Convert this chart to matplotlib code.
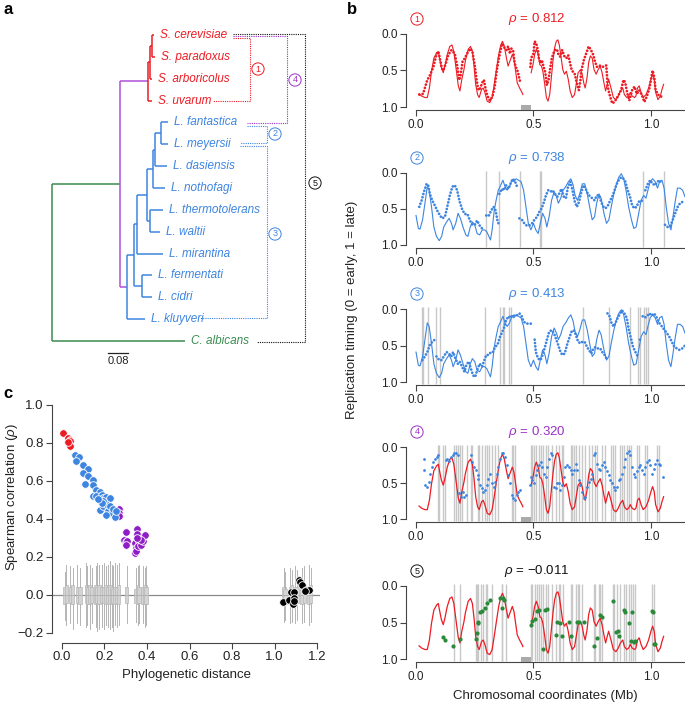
import numpy as np
import matplotlib
matplotlib.use('Agg')
import matplotlib.pyplot as plt
from matplotlib.patches import Rectangle

plt.rcParams['font.family'] = ['Liberation Sans', 'DejaVu Sans', 'Noto Sans CJK SC']
plt.rcParams['mathtext.fontset'] = 'custom'
plt.rcParams['mathtext.rm'] = 'Liberation Sans'
plt.rcParams['mathtext.it'] = 'Liberation Sans:italic'

nan = np.nan
RED, BLUE, PURPLE, GREEN, BLACK = '#ec1c24', '#3d85e0', '#9b30c9', '#3a8c50', '#111111'
TREE_PURPLE = '#b050d8'
AXC = '#444444'

# ---------------- panel a : tree ----------------
leaf_names = ['S. cerevisiae', 'S. paradoxus', 'S. arboricolus', 'S. uvarum',
              'L. fantastica', 'L. meyersii', 'L. dasiensis', 'L. nothofagi',
              'L. thermotolerans', 'L. waltii', 'L. mirantina', 'L. fermentati',
              'L. cidri', 'L. kluyveri', 'C. albicans']
tree_edges = [
    ('root', 'C. albicans', 0.532), ('root', 'yeast', 0.272),
    ('yeast', 'sac', 0.112), ('yeast', 'lach', 0.028),
    ('sac', 'S. uvarum', 0.016), ('sac', 'sacB', 0.008),
    ('sacB', 'S. arboricolus', 0.008), ('sacB', 'sacA', 0.008),
    ('sacA', 'S. cerevisiae', 0.008), ('sacA', 'S. paradoxus', 0.012),
    ('lach', 'L. kluyveri', 0.072), ('lach', 'n1', 0.028),
    ('n1', 'fc', 0.032), ('fc', 'L. fermentati', 0.04), ('fc', 'L. cidri', 0.04),
    ('n1', 'n2', 0.012), ('n2', 'L. mirantina', 0.104), ('n2', 'n3', 0.04),
    ('n3', 'tw', 0.012), ('tw', 'L. thermotolerans', 0.052), ('tw', 'L. waltii', 0.04),
    ('n3', 'n4', 0.024), ('n4', 'L. nothofagi', 0.048), ('n4', 'n5', 0.008),
    ('n5', 'L. dasiensis', 0.048), ('n5', 'fm', 0.024),
    ('fm', 'L. fantastica', 0.028), ('fm', 'L. meyersii', 0.028)]
scale_bar = 0.08

# ---------------- panel b : replication profiles ----------------
cer_lx = [0.013,0.024,0.038,0.048,0.057,0.066,0.076,0.088,0.095,0.10,0.108,0.116,0.123,0.133,0.144,
          0.153,0.161,0.17,0.18,0.187,0.195,0.204,0.21,0.222,0.232,0.24,0.247,0.254,0.262,0.269,
          0.279,0.286,0.293,0.303,0.314,0.324,0.332,0.342,0.352,0.361,0.368,0.376,0.385,0.392,0.402,
          0.41,0.417,0.424,0.431,0.441,0.451,0.455]
cer_ly = [0.82,0.85,0.87,0.87,0.74,0.51,0.33,0.26,0.24,0.33,0.46,0.53,0.44,0.28,0.17,
          0.15,0.24,0.46,0.71,0.78,0.62,0.49,0.37,0.21,0.17,0.24,0.44,0.69,0.83,0.87,
          0.76,0.74,0.80,0.92,0.94,0.87,0.71,0.49,0.28,0.15,0.10,0.17,0.33,0.44,0.35,
          0.28,0.35,0.51,0.67,0.74,0.80,0.83]
cer_rx = [0.49,0.498,0.505,0.512,0.52,0.527,0.534,0.54,0.548,0.555,0.562,0.569,0.576,0.583,0.59,
          0.597,0.604,0.61,0.618,0.625,0.632,0.64,0.648,0.656,0.665,0.675,0.682,0.69,0.70,0.707,
          0.714,0.72,0.728,0.735,0.742,0.75,0.758,0.767,0.775,0.784,0.792,0.80,0.807,0.814,0.82,
          0.83,0.84,0.851,0.861,0.87,0.88,0.887,0.897,0.905,0.912,0.92,0.93,0.936,0.943,0.95,
          0.958,0.967,0.979,0.99,1.0,1.007,1.014,1.02,1.03,1.04,1.047,1.054]
cer_ry = [0.53,0.42,0.28,0.21,0.28,0.42,0.44,0.51,0.69,0.87,0.92,0.83,0.60,0.37,0.19,
          0.10,0.08,0.15,0.33,0.49,0.55,0.51,0.62,0.78,0.87,0.83,0.69,0.53,0.49,0.55,
          0.67,0.74,0.60,0.39,0.30,0.33,0.49,0.55,0.49,0.44,0.53,0.67,0.78,0.69,0.62,
          0.74,0.87,0.90,0.85,0.78,0.74,0.83,0.87,0.85,0.80,0.85,0.87,0.85,0.74,0.71,
          0.80,0.87,0.83,0.74,0.62,0.55,0.62,0.80,0.90,0.85,0.76,0.69]

sac_lx = [0.014,0.03,0.048,0.06,0.074,0.088,0.095,0.10,0.11,0.116,0.127,0.137,0.151,0.165,0.175,
          0.184,0.19,0.198,0.208,0.222,0.232,0.24,0.25,0.257,0.264,0.27,0.283,0.289,0.296,0.303,
          0.314,0.325,0.335,0.342,0.35,0.36,0.368,0.378,0.385,0.392,0.40,0.406,0.413,0.42,0.427,
          0.434,0.441,0.445]
sac_ly = [0.83,0.82,0.63,0.56,0.45,0.27,0.24,0.31,0.47,0.50,0.40,0.29,0.22,0.27,0.43,
          0.63,0.56,0.38,0.33,0.24,0.20,0.24,0.43,0.61,0.75,0.77,0.66,0.63,0.75,0.84,
          0.91,0.86,0.72,0.54,0.38,0.22,0.13,0.20,0.22,0.17,0.27,0.20,0.22,0.40,0.47,
          0.52,0.63,0.66]
sac_rx = [0.487,0.49,0.50,0.505,0.512,0.52,0.523,0.53,0.536,0.543,0.55,0.557,0.564,0.57,0.578,
          0.59,0.60,0.607,0.614,0.622,0.632,0.64,0.648,0.653,0.663,0.675,0.685,0.693,0.70,0.704,
          0.714,0.724,0.735,0.745,0.755,0.762,0.77,0.78,0.795,0.81,0.816,0.823,0.835,0.845,0.858,
          0.873,0.883,0.89,0.90,0.908,0.92,0.93,0.94,0.95,0.962,0.972,0.982,0.993,1.0,1.007,
          1.014,1.02,1.033,1.042,1.05]
sac_ry = [0.45,0.33,0.27,0.10,0.13,0.24,0.33,0.40,0.36,0.45,0.52,0.70,0.63,0.50,0.33,
          0.22,0.21,0.29,0.31,0.22,0.31,0.33,0.29,0.36,0.50,0.54,0.68,0.77,0.63,0.50,
          0.36,0.27,0.17,0.22,0.29,0.38,0.45,0.43,0.45,0.43,0.72,0.82,0.95,0.93,0.86,
          0.77,0.63,0.66,0.82,0.91,0.77,0.72,0.82,0.77,0.84,0.93,0.86,0.75,0.63,0.50,
          0.59,0.77,0.84,0.86,0.84]

mey_x = [0.0,0.01,0.017,0.028,0.038,0.048,0.056,0.066,0.076,0.087,0.099,0.109,0.118,0.13,0.141,
         0.151,0.158,0.169,0.179,0.189,0.20,0.212,0.221,0.231,0.24,0.25,0.26,0.271,0.282,0.292,
         0.302,0.31,0.317,0.324,0.333,0.341,0.35,0.358,0.37,0.379,0.388,0.398,0.408,0.417,0.426,
         0.436,0.447,0.458,0.468,0.478,0.489,0.50,0.51,0.52,0.529,0.539,0.549,0.557,0.567,0.577,
         0.588,0.598,0.606,0.616,0.626,0.637,0.649,0.659,0.669,0.677,0.687,0.697,0.708,0.718,0.729,
         0.739,0.75,0.76,0.769,0.779,0.788,0.80,0.811,0.821,0.831,0.842,0.853,0.863,0.874,0.884,
         0.894,0.905,0.917,0.927,0.937,0.948,0.958,0.969,0.979,0.987,0.997,1.007,1.018,1.028,1.037,
         1.047,1.056,1.065,1.075,1.085,1.093,1.103,1.113,1.124,1.135,1.145]
mey_y = [0.59,0.77,0.78,0.65,0.42,0.19,0.24,0.47,0.75,0.88,0.94,0.88,0.75,0.68,0.63,
         0.70,0.79,0.70,0.56,0.63,0.75,0.86,0.88,0.75,0.68,0.72,0.84,0.86,0.79,0.79,
         0.82,0.88,0.93,0.79,0.52,0.38,0.24,0.19,0.10,0.19,0.24,0.19,0.10,0.12,0.08,
         0.10,0.12,0.24,0.47,0.70,0.79,0.70,0.79,0.84,0.70,0.56,0.63,0.75,0.60,0.38,
         0.26,0.33,0.42,0.35,0.24,0.19,0.12,0.08,0.17,0.31,0.38,0.29,0.15,0.15,0.29,
         0.47,0.65,0.61,0.42,0.29,0.35,0.56,0.70,0.65,0.47,0.29,0.15,0.06,0.01,0.08,
         0.24,0.47,0.65,0.77,0.75,0.56,0.38,0.31,0.35,0.24,0.12,0.08,0.12,0.21,0.12,
         0.10,0.21,0.47,0.70,0.79,0.63,0.40,0.21,0.21,0.24,0.33]

fan_x = [0.014,0.024,0.034,0.045,0.052,0.059,0.069,0.08,0.09,0.102,0.111,0.123,0.133,0.144,0.155,
         0.165,0.175,0.186,0.196,0.207,0.219,0.228,0.24,0.25,0.26,0.271,0.281,0.288, nan,
         0.299,0.309,0.32,0.33,0.339,0.346,0.351, nan,
         0.355,0.365,0.374,0.384,0.394,0.402,0.412,0.422,0.43,0.436, nan,
         0.44,0.451,0.461,0.471,0.482,0.494,0.504,0.515,0.525,0.535,0.545,0.553,0.563,0.573,0.581,
         0.591,0.601,0.609,0.619,0.629,0.638,0.647,0.657,0.666,0.676,0.685,0.694,0.704,0.714,0.722,
         0.732,0.742,0.75,0.76,0.77,0.779,0.788,0.798,0.807,0.817,0.827,0.835,0.845,0.855,0.863,
         0.873,0.883,0.891,0.901,0.911,0.92,0.929,0.939,0.948,0.958,0.968, nan,
         0.976,0.987,0.997,1.007,1.018,1.028,1.037,1.044, nan,
         1.06,1.07,1.082,1.093,1.103,1.114,1.124,1.135,1.145]
fan_y = [0.47,0.38,0.26,0.15,0.17,0.29,0.38,0.45,0.52,0.59,0.63,0.61,0.47,0.31,0.19,
         0.17,0.24,0.40,0.50,0.57,0.57,0.65,0.72,0.72,0.66,0.73,0.77,0.75, nan,
         0.59,0.60,0.52,0.47,0.52,0.65,0.70, nan,
         0.29,0.22,0.24,0.17,0.22,0.15,0.08,0.12,0.19,0.19, nan,
         0.63,0.65,0.70,0.73,0.73,0.70,0.65,0.61,0.54,0.49,0.40,0.31,0.24,0.26,0.24,
         0.29,0.33,0.29,0.22,0.33,0.35,0.19,0.12,0.24,0.40,0.47,0.40,0.26,0.17,0.22,
         0.29,0.33,0.35,0.38,0.31,0.31,0.40,0.47,0.49,0.45,0.38,0.33,0.24,0.15,0.10,
         0.06,0.08,0.12,0.24,0.33,0.45,0.49,0.47,0.40,0.38,0.40, nan,
         0.24,0.15,0.10,0.15,0.17,0.12,0.10,0.15, nan,
         0.72,0.75,0.74,0.65,0.56,0.47,0.42,0.40,0.42]

klu_x = [0.027,0.038,0.048,0.059,0.069,0.08, nan,
         0.087,0.099,0.109,0.118,0.13,0.14,0.15,0.158,0.168,0.178,0.186,0.196,0.206,0.214,0.224,
         0.234,0.243,0.252,0.262,0.271,0.281,0.291,0.299,0.309,0.319,0.327,0.337,0.347,0.355,0.365,
         0.374,0.384,0.394,0.403,0.412,0.422,0.432,0.44,0.45,0.458,0.468,0.478,0.488,0.496, nan,
         0.505,0.51,0.52,0.53,0.539,0.549,0.559,0.567,0.577,0.587,0.595,0.605,0.615,0.623,0.633,
         0.643,0.652,0.662,0.671,0.68,0.69,0.70,0.708,0.718,0.728,0.736,0.746,0.756,0.764,0.774,
         0.784,0.793,0.803,0.811, nan,
         0.815,0.824,0.832,0.841,0.849,0.859,0.869,0.877,0.887,0.897,0.906,0.915,0.924,0.934,0.944, nan,
         0.953,0.959, nan,
         0.965,0.973,0.983,0.993,1.004,1.014,1.025,1.035,1.047,1.058,1.068,1.078,1.089,1.10,1.11,
         1.12,1.13,1.145]
klu_y = [0.70,0.65,0.59,0.49,0.45,0.42, nan,
         0.65,0.70,0.70,0.65,0.59,0.61,0.65,0.59,0.68,0.75,0.72,0.79,0.86,0.77,0.72,
         0.82,0.91,0.93,0.82,0.75,0.79,0.70,0.63,0.63,0.59,0.59,0.52,0.49,0.40,0.33,
         0.26,0.15,0.10,0.12,0.08,0.10,0.08,0.06,0.10,0.17,0.20,0.20,0.20,0.22, nan,
         0.42,0.59,0.68,0.70,0.63,0.52,0.40,0.31,0.29,0.33,0.40,0.49,0.59,0.63,0.61,
         0.49,0.40,0.31,0.29,0.35,0.45,0.47,0.45,0.45,0.52,0.56,0.61,0.54,0.52,0.54,
         0.54,0.59,0.63,0.68, nan,
         0.06,0.10,0.19,0.24,0.19,0.12,0.06,0.02,0.06,0.12,0.29,0.40,0.52,0.59,0.65, nan,
         0.42,0.38, nan,
         0.10,0.12,0.10,0.06,0.09,0.06,0.12,0.19,0.24,0.29,0.33,0.38,0.45,0.52,0.54,
         0.56,0.55,0.50]

fan4_x = [0.033,0.035,0.04,0.045,0.054,0.06,0.066,0.074,0.08,0.088,0.095,
          0.127,0.134,0.141,0.149,0.156,0.163,0.17,0.177,0.184,0.191,0.198,0.205,0.212,
          0.233,0.24,0.248,0.255,0.262,0.266,0.272,0.28,0.287,0.294,0.301,0.308,0.315,0.322,0.33,
          0.337,0.344,0.351,0.358,0.365,0.372,0.379,0.386,0.393,0.40,0.407,0.414,0.421,0.429,0.436,0.443,
          0.485,0.489,0.495,0.502,0.509,0.516,0.523,0.53,0.537,0.545,0.552,0.559,0.566,0.573,0.58,
          0.587,0.594,0.601,0.608,0.615,0.622,0.629,0.636,0.644,0.651,0.658,0.665,0.672,0.679,0.686,
          0.693,0.70,0.707,0.714,0.721,0.728,0.736,0.743,0.75,0.757,0.764,0.771,0.778,0.785,0.792,
          0.799,0.806,0.813,0.82,0.827,0.835,0.842,0.849,0.856,0.863,0.87,0.877,0.884,0.891,0.898,
          0.905,0.912,0.919,0.926,0.933,0.941,0.948,0.955,0.962,0.969,0.976,0.983,0.99,0.997,1.004,
          1.011,1.018,1.025,1.033,1.04,1.05]
fan4_y = [0.16,0.32,0.53,0.55,0.48,0.37,0.28,0.21,0.16,0.14,0.11,
          0.18,0.16,0.19,0.14,0.11,0.09,0.08,0.11,0.64,0.69,0.62,0.69,0.67,
          0.11,0.21,0.28,0.32,0.39,0.44,0.53,0.57,0.62,0.60,0.53,0.44,0.37,0.50,0.55,
          0.48,0.37,0.28,0.16,0.09,0.08,0.14,0.25,0.39,0.50,0.67,0.71,0.73,0.67,0.62,0.60,
          0.53,0.41,0.46,0.50,0.39,0.32,0.25,0.21,0.28,0.37,0.41,0.28,0.16,0.09,0.11,
          0.55,0.57,0.50,0.50,0.60,0.53,0.41,0.28,0.25,0.28,0.32,0.37,0.32,0.23,0.32,
          0.46,0.53,0.62,0.71,0.69,0.55,0.48,0.44,0.37,0.11,0.09,0.23,0.30,0.32,0.25,
          0.21,0.28,0.34,0.39,0.46,0.50,0.55,0.60,0.55,0.46,0.44,0.37,0.28,0.16,0.09,
          0.05,0.11,0.28,0.37,0.41,0.34,0.28,0.25,0.32,0.37,0.28,0.21,0.18,0.25,0.37,
          0.30,0.23,0.18,0.23,0.25,0.41]

alb_x = [0.116,0.123,0.158,0.187,0.255,0.259,0.262,0.266,0.274,0.28,0.294,0.304,0.314,0.359,0.365,
         0.37,0.376,0.488,0.495,0.506,0.516,0.523,0.54,0.549,0.559,0.597,0.601,0.612,0.62,0.65,
         0.66,0.686,0.693,0.714,0.757,0.771,0.785,0.792,0.837,0.851,0.86,0.865,0.884,0.888,0.905,
         0.917,0.92,0.926,0.931,1.004,1.007,1.011,1.018]
alb_y = [0.70,0.74,0.82,0.72,0.72,0.65,0.50,0.49,0.35,0.34,0.30,0.23,0.19,0.16,0.30,
         0.16,0.19,0.53,0.48,0.45,0.34,0.33,0.86,0.33,0.32,0.67,0.49,0.50,0.68,0.49,
         0.68,0.49,0.49,0.49,0.82,0.71,0.40,0.43,0.20,0.63,0.61,0.68,0.33,0.36,0.51,
         0.76,0.35,0.77,0.75,0.34,0.36,0.80,0.80]

brk2 = [0.299,0.353,0.441,0.529,0.532,0.966,1.056]
brk3 = [0.027,0.031,0.052,0.086,0.102,0.295,0.356,0.37,0.374,0.396,0.405,0.712,0.821,0.909,
        0.945,0.952,0.969,0.977,0.986]
brk4 = [0.095,0.099,0.117,0.124,0.163,0.170,0.178,0.187,0.195,0.219,0.233,0.240,0.262,0.269,
        0.283,0.293,0.304,0.311,0.325,0.337,0.347,0.407,0.414,0.421,0.488,0.495,0.502,0.512,
        0.523,0.530,0.540,0.552,0.563,0.580,0.594,0.608,0.620,0.625,0.658,0.665,0.672,0.679,
        0.693,0.707,0.721,0.736,0.750,0.764,0.771,0.792,0.806,0.832,0.839,0.849,0.870,0.877,
        0.884,0.898,0.905,0.917,0.941,0.948,0.976,0.983,1.025,1.033]
brk5 = [0.160,0.187,0.255,0.259,0.266,0.276,0.286,0.297,0.301,0.322,0.364,0.368,0.382,0.488,
        0.495,0.506,0.516,0.523,0.530,0.540,0.552,0.563,0.580,0.597,0.608,0.615,0.625,0.658,
        0.665,0.679,0.689,0.693,0.707,0.757,0.764,0.778,0.785,0.792,0.837,0.842,0.856,0.870,
        0.884,0.894,0.905,0.914,0.922,0.934,1.004,1.011]
centromere = (0.449, 0.491)
rho_values = ['0.812', '0.738', '0.413', '0.320', '\u22120.011']
group_ids = ['1', '2', '3', '4', '5']

# ---------------- panel c ----------------
red_d = [0.005,0.028,0.036,0.036,0.039,0.028]
red_r = [0.85,0.825,0.816,0.807,0.785,0.804]
blue_d = [0.06,0.08,0.068,0.099,0.123,0.099,0.123,0.11,0.146,0.146,0.162,0.178,0.146,0.162,0.186,
          0.193,0.201,0.209,0.225,0.178,0.193,0.209,0.217,0.225,0.233,0.241,0.248,0.256,0.209,0.193,
          0.186,0.17]
blue_r = [0.734,0.723,0.702,0.685,0.664,0.641,0.627,0.585,0.602,0.576,0.553,0.539,0.522,0.522,0.527,
          0.51,0.501,0.515,0.51,0.448,0.466,0.48,0.44,0.469,0.431,0.454,0.41,0.443,0.422,0.492,
          0.483,0.504]
purple_d = [0.267,0.269,0.269,0.30,0.291,0.30,0.307,0.30,0.354,0.351,0.343,0.347,0.343,0.347,0.363,
            0.358,0.374,0.379,0.385,0.39,0.374,0.354]
purple_r = [0.452,0.431,0.413,0.331,0.291,0.277,0.282,0.261,0.349,0.32,0.273,0.247,0.221,0.229,0.282,
            0.256,0.264,0.282,0.308,0.317,0.291,0.30]
black_d = [1.04,1.066,1.077,1.093,1.093,1.087,1.09,1.117,1.118,1.13,1.15,1.161,1.145]
black_r = [-0.039,-0.028,0.016,0.016,-0.016,-0.047,-0.033,0.081,0.067,0.054,0.028,0.028,0.023]

box_pos = [0.013,0.02,0.04,0.05,0.072,0.085,0.115,0.12,0.13,0.14,0.16,0.165,0.175,0.186,0.197,
           0.205,0.217,0.225,0.233,0.24,0.25,0.257,0.267,0.304,0.348,0.356,0.362,0.382,0.39,0.395,
           1.045,1.05,1.075,1.08,1.095,1.105,1.13,1.14,1.16,1.17]
box_q1 = [-0.05,-0.04,-0.04,-0.05,-0.04,-0.05,-0.04,-0.05,-0.05,-0.04,-0.05,-0.04,-0.05,-0.04,-0.04,
          -0.05,-0.04,-0.05,-0.04,-0.04,-0.05,-0.04,-0.05,-0.04,-0.04,-0.05,-0.04,-0.05,-0.04,-0.05,
          -0.04,-0.05,-0.04,-0.05,-0.04,-0.04,-0.05,-0.04,-0.05,-0.04]
box_q3 = [0.04,0.05,0.04,0.05,0.04,0.04,0.05,0.04,0.05,0.04,0.05,0.04,0.05,0.04,0.04,
          0.05,0.04,0.05,0.04,0.03,0.04,0.04,0.05,0.04,0.03,0.05,0.04,0.04,0.05,0.04,
          0.04,0.03,0.04,0.05,0.04,0.04,0.05,0.04,0.04,0.05]
box_lo = [-0.13,-0.16,-0.15,-0.18,-0.15,-0.16,-0.17,-0.16,-0.18,-0.15,-0.17,-0.19,-0.18,-0.17,-0.18,
          -0.16,-0.17,-0.18,-0.17,-0.19,-0.16,-0.17,-0.16,-0.15,-0.14,-0.16,-0.15,-0.15,-0.17,-0.16,
          -0.14,-0.13,-0.15,-0.14,-0.15,-0.13,-0.15,-0.14,-0.16,-0.14]
box_hi = [0.12,0.16,0.15,0.14,0.16,0.14,0.17,0.15,0.16,0.14,0.15,0.17,0.16,0.16,0.17,
          0.15,0.16,0.18,0.16,0.15,0.17,0.16,0.17,0.15,0.14,0.15,0.16,0.15,0.14,0.15,
          0.14,0.12,0.14,0.13,0.15,0.13,0.14,0.15,0.16,0.14]

# =====================================================================
W, H = 685, 704
fig = plt.figure(figsize=(W / 100, H / 100), dpi=100)


def add_axes_px(l, t, r, b):
    return fig.add_axes([l / W, 1 - b / H, (r - l) / W, (b - t) / H])


def ftext(px, py, s, **kw):
    kw.setdefault('ha', 'center')
    kw.setdefault('va', 'center')
    return fig.text(px / W, 1 - py / H, s, **kw)


def circled(px, py, s, color, size=6.5):
    ftext(px, py, s, color=color, fontsize=size,
          bbox=dict(boxstyle='circle,pad=0.18', fc='none', ec=color, lw=0.7))


# ---------------- panel a ----------------
axa = add_axes_px(0, 0, 340, 365)
PXU = 0.004          # tree units per pixel
ROOTPX, LEAF0, LEAFSP = 52, 35, 21.86
axa.set_xlim(-ROOTPX * PXU, (340 - ROOTPX) * PXU)
axa.set_ylim((365 - LEAF0) / LEAFSP, -LEAF0 / LEAFSP)
axa.axis('off')


def tx(px):
    return (px - ROOTPX) * PXU


def ty(py):
    return (py - LEAF0) / LEAFSP


xpos = {'root': 0.0}
children = {}
for p, c, L in tree_edges:
    xpos[c] = xpos[p] + L
    children.setdefault(p, []).append(c)
ypos = {n: i for i, n in enumerate(leaf_names)}


def get_y(n):
    if n not in ypos:
        ypos[n] = np.mean([get_y(c) for c in children[n]])
    return ypos[n]


get_y('root')


def node_color(n):
    if n in ('root', 'C. albicans'):
        return GREEN
    if n == 'yeast':
        return TREE_PURPLE
    if n.startswith('S.') or n.startswith('sac'):
        return RED
    return BLUE


for p, c, L in tree_edges:
    axa.plot([xpos[p], xpos[c]], [ypos[c], ypos[c]], color=node_color(p), lw=1.1,
             solid_capstyle='butt')
for n, ch in children.items():
    ys = [ypos[c] for c in ch]
    axa.plot([xpos[n], xpos[n]], [min(ys), max(ys)], color=node_color(n), lw=1.1,
             solid_capstyle='butt')
for n in leaf_names:
    axa.text(xpos[n] + 0.024, ypos[n], n, color=node_color(n), fontsize=8.5,
             style='italic', ha='left', va='center')

# comparison brackets (annotation)
brackets = [
    (RED, [(233, 38), (250, 38), (250, 101), (213, 101)], (258, 69), '1'),
    (PURPLE, [(233, 36), (287, 36), (287, 123), (247, 123)], (295, 80), '4'),
    (BLUE, [(247, 126), (267, 126), (267, 143), (240, 143)], (275, 134), '2'),
    (BLUE, [(240, 146), (267, 146), (267, 318), (200, 318)], (275, 234), '3'),
    (BLACK, [(233, 34), (305, 34), (305, 342), (257, 342)], (315, 183), '5'),
]
for col, pts, lab, s in brackets:
    axa.plot([tx(p[0]) for p in pts], [ty(p[1]) for p in pts], color=col, lw=0.8,
             ls=(0, (1, 1)))
    circled(lab[0], lab[1], s, col, 6.5)

axa.plot([tx(108), tx(108) + scale_bar], [ty(353), ty(353)], color='#222222', lw=0.9)
axa.text(tx(108) + scale_bar / 2, ty(361), f'{scale_bar:.2f}', fontsize=8,
         ha='center', va='center', color='#222222')

# ---------------- panel b ----------------
b_y0 = [34, 173, 309, 447, 586]
b_y1 = [107, 245, 382, 519, 659]
XL, XR = -0.0426, 1.145
title_cols = [RED, BLUE, BLUE, PURPLE, BLACK]
axes_b = []
for i in range(5):
    s = b_y1[i] - b_y0[i]
    ax = add_axes_px(406, b_y0[i] - 0.12 * s, 685, b_y1[i] + 0.045 * s)
    ax.set_xlim(XL, XR)
    ax.set_ylim(1.045, -0.12)
    for sp in ('top', 'right'):
        ax.spines[sp].set_visible(False)
    ax.spines['left'].set_bounds(0, 1)
    ax.spines['bottom'].set_bounds(0, XR)
    for sp in ('left', 'bottom'):
        ax.spines[sp].set_color(AXC)
        ax.spines[sp].set_linewidth(0.8)
    ax.set_xticks([0, 0.5, 1.0])
    ax.set_xticklabels(['0.0', '0.5', '1.0'])
    ax.set_yticks([0, 0.5, 1.0])
    ax.set_yticklabels(['0.0', '0.5', '1.0'])
    ax.tick_params(direction='out', length=4, width=0.8, color=AXC, labelsize=8.5,
                   labelcolor='#222222', pad=2)
    ax.patch.set_alpha(0)
    axes_b.append(ax)
    circled(417, b_y0[i] - 15, group_ids[i], title_cols[i], 6.5)
    ftext(537, b_y0[i] - 15, r'$\rho$ = ' + rho_values[i], color=title_cols[i], fontsize=9.5)

VL = dict(color='#c8c8c8', lw=1.0, zorder=0)
DOTS = dict(lw=2.0, ls=(0, (0.01, 1.2)), dash_capstyle='round')

ax = axes_b[0]
ax.plot(cer_lx, cer_ly, color=RED, lw=0.8)
ax.plot(cer_rx, cer_ry, color=RED, lw=0.8)
ax.plot(sac_lx, sac_ly, color=RED, **DOTS)
ax.plot(sac_rx, sac_ry, color=RED, **DOTS)

ax = axes_b[1]
ax.vlines(brk2, -0.03, 1.03, **VL)
ax.plot(mey_x, mey_y, color=BLUE, lw=0.8)
ax.plot(fan_x, fan_y, color=BLUE, **DOTS)

ax = axes_b[2]
ax.vlines(brk3, -0.03, 1.03, **VL)
ax.plot(mey_x, mey_y, color=BLUE, lw=0.8)
ax.plot(klu_x, klu_y, color=BLUE, **DOTS)

ax = axes_b[3]
ax.vlines(brk4, -0.03, 1.03, **VL)
ax.plot(cer_lx, cer_ly, color=RED, lw=0.9)
ax.plot(cer_rx, cer_ry, color=RED, lw=0.9)
ax.scatter(fan4_x, fan4_y, s=4, color=BLUE, lw=0, zorder=3)

ax = axes_b[4]
ax.vlines(brk5, -0.03, 1.03, **VL)
ax.plot(cer_lx, cer_ly, color=RED, lw=0.9)
ax.plot(cer_rx, cer_ry, color=RED, lw=0.9)
ax.scatter(alb_x, alb_y, s=9, color='#2a8a3a', lw=0, zorder=3)

for i in (0, 3, 4):
    axes_b[i].add_patch(Rectangle((centromere[0], 0.975), centromere[1] - centromere[0], 0.07,
                                  color='#aaaaaa', lw=0, clip_on=False, zorder=4))

ftext(352, 310, 'Replication timing (0 = early, 1 = late)', rotation=90, fontsize=9.5,
      color='#222222')
ftext(545, 696, 'Chromosomal coordinates (Mb)', fontsize=9.5, color='#222222')

# ---------------- panel c ----------------
axc = add_axes_px(52, 399, 320, 643)
axc.set_xlim(-0.047, 1.214)
axc.set_ylim(-0.2526, 1.03)
for sp in ('top', 'right'):
    axc.spines[sp].set_visible(False)
axc.spines['left'].set_bounds(-0.2, 1.0)
axc.spines['bottom'].set_bounds(0, 1.2)
for sp in ('left', 'bottom'):
    axc.spines[sp].set_color(AXC)
    axc.spines[sp].set_linewidth(0.8)
xt = [0, 0.2, 0.4, 0.6, 0.8, 1.0, 1.2]
yt = [-0.2, 0, 0.2, 0.4, 0.6, 0.8, 1.0]
axc.set_xticks(xt)
axc.set_xticklabels([f'{v:.1f}' for v in xt])
axc.set_yticks(yt)
axc.set_yticklabels([f'{v:.1f}'.replace('-', '\u2212') for v in yt])
axc.tick_params(direction='out', length=4, width=0.8, color=AXC, labelsize=9.5,
                labelcolor='#222222', pad=2)
axc.axhline(0, color='#8a8a8a', lw=0.9, zorder=1)

stats = [dict(med=0.0, q1=a, q3=b, whislo=c, whishi=d, fliers=[])
         for a, b, c, d in zip(box_q1, box_q3, box_lo, box_hi)]
axc.bxp(stats, positions=box_pos, widths=0.016, showfliers=False, showcaps=False,
        patch_artist=True, manage_ticks=False,
        boxprops=dict(facecolor='#d4d4d4', edgecolor='#b8b8b8', lw=0.5),
        whiskerprops=dict(color='#b4b4b4', lw=0.7),
        medianprops=dict(color='#b0b0b0', lw=0.6))

SC = dict(s=30, edgecolors='white', linewidths=0.6, zorder=5)
axc.scatter(black_d, black_r, color='black', **SC)
axc.scatter(purple_d, purple_r, color='#8e1dc8', **SC)
axc.scatter(blue_d, blue_r, color=BLUE, **SC)
axc.scatter(red_d, red_r, color=RED, **SC)
axc.set_xlabel('Phylogenetic distance', fontsize=9.5, color='#222222', labelpad=4)
ftext(12, 497, r'Spearman correlation ($\rho$)', rotation=90, fontsize=9.5, color='#222222')

# panel letters
ftext(8, 9, 'a', fontsize=12, fontweight='bold')
ftext(352, 9, 'b', fontsize=12, fontweight='bold')
ftext(8, 393, 'c', fontsize=12, fontweight='bold')

fig.savefig('out.png', dpi=100)
